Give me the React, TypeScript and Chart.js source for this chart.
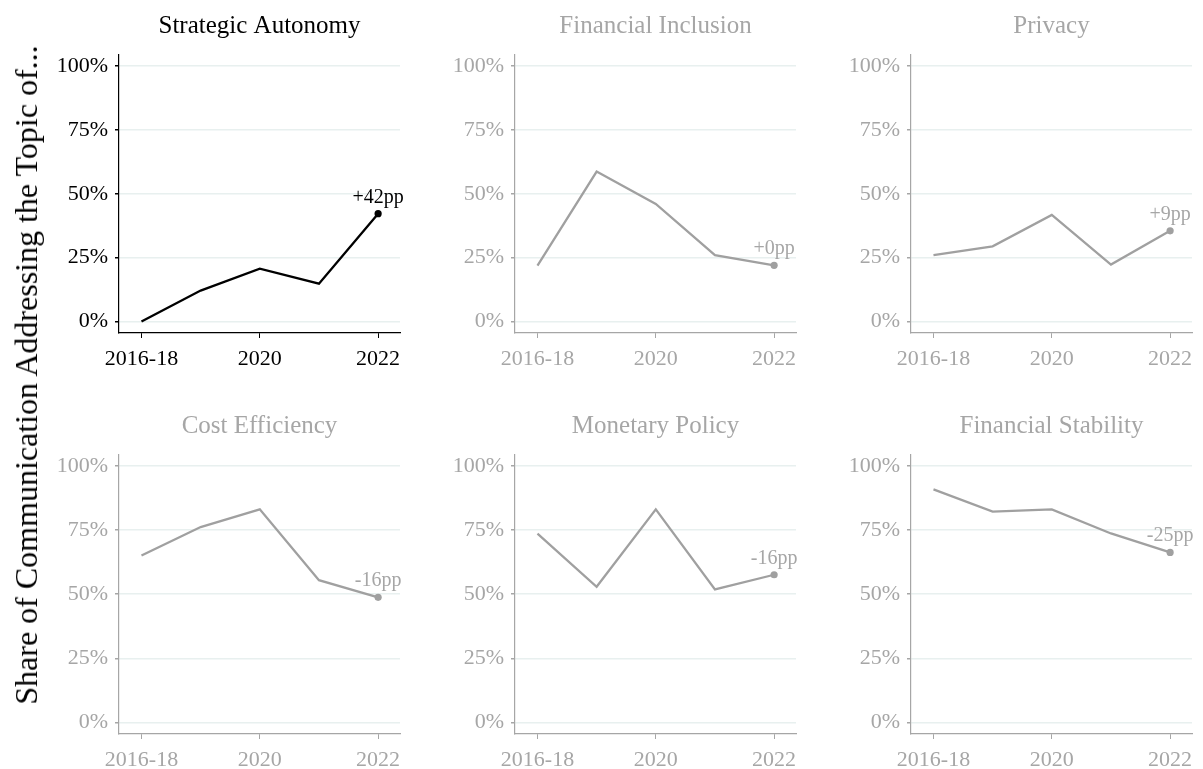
import React, { useEffect, useRef } from 'react';
import { Chart, registerables } from 'chart.js';

Chart.register(...registerables);

// ---- Data ----
const periods = ['2016-18', '2019', '2020', '2021', '2022'];
const xTickIndices = [0, 2, 4];
const yTicks = [0, 25, 50, 75, 100];
const yTickLabels = ['0%', '25%', '50%', '75%', '100%'];

const strategicAutonomy = [0, 12.1, 20.7, 14.8, 42.2];
const financialInclusion = [21.9, 58.7, 46.0, 26.0, 22.0];
const privacy = [26.0, 29.4, 41.7, 22.3, 35.5];
const costEfficiency = [65.1, 76.2, 83.1, 55.5, 48.8];
const monetaryPolicy = [73.6, 52.9, 83.1, 51.9, 57.6];
const financialStability = [90.9, 82.2, 83.1, 73.7, 66.3];

const panelTitles = [
  'Strategic Autonomy',
  'Financial Inclusion',
  'Privacy',
  'Cost Efficiency',
  'Monetary Policy',
  'Financial Stability',
];
const panelValues = [
  strategicAutonomy,
  financialInclusion,
  privacy,
  costEfficiency,
  monetaryPolicy,
  financialStability,
];
const changeLabels = ['+42pp', '+0pp', '+9pp', '-16pp', '-16pp', '-25pp'];
const highlighted = [true, false, false, false, false, false];

const yAxisTitle = 'Share of Communication Addressing the Topic of...';

// ---- Styles / layout ----
const FONT = "'Liberation Serif', 'Times New Roman', Times, serif";
const GRAY = '#a6a6a6';
const LINE_GRAY = '#a0a0a0';
const GRID = '#e8f0ef';
const Y_AXIS_W = 80;
const X_AXIS_H = 35;
const TITLE_H = 55;
const PLOT_W = 281;
const PAD_R = 20;
const colLefts = [119, 515, 911];
const rowLayouts = [
  { top: 0, plotH: 278, titlePadTop: 11 },
  { top: 400, plotH: 279, titlePadTop: 11 },
];

const endLabelPlugin = {
  id: 'endLabel',
  afterDatasetsDraw(chart: any, _args: any, opts: any) {
    const meta = chart.getDatasetMeta(0);
    const pt = meta.data[meta.data.length - 1];
    if (!pt) return;
    const ctx = chart.ctx;
    ctx.save();
    ctx.font = `20px ${FONT}`;
    ctx.fillStyle = opts.color;
    ctx.textAlign = 'center';
    ctx.textBaseline = 'alphabetic';
    ctx.fillText(opts.text, pt.x, pt.y - 11);
    ctx.restore();
  },
};

function Panel({ index }: { index: number }) {
  const ref = useRef<HTMLCanvasElement>(null);
  const col = index % 3;
  const row = Math.floor(index / 3);
  const rl = rowLayouts[row];
  const left = colLefts[col] - Y_AXIS_W;
  const width = Y_AXIS_W + PLOT_W + PAD_R;
  const height = TITLE_H + rl.plotH + X_AXIS_H;

  useEffect(() => {
    if (!ref.current) return;
    const hl = highlighted[index];
    const color = hl ? '#000000' : GRAY;
    const lineColor = hl ? '#000000' : LINE_GRAY;
    const values = panelValues[index];
    const tickFont = { family: FONT, size: 22, weight: 'normal' as const };
    const chart = new Chart(ref.current, {
      type: 'line',
      data: {
        datasets: [
          {
            data: values.map((v, i) => ({ x: i, y: v })),
            borderColor: lineColor,
            borderWidth: 2.3,
            pointRadius: values.map((_, i) => (i === values.length - 1 ? 3.6 : 0)),
            pointBackgroundColor: lineColor,
            pointBorderWidth: 0,
            tension: 0,
            clip: false as any,
          },
        ],
      },
      options: {
        responsive: false,
        animation: false,
        devicePixelRatio: 1,
        layout: { padding: { left: 0, top: 0, right: PAD_R, bottom: 0 } },
        plugins: {
          legend: { display: false },
          tooltip: { enabled: false },
          title: {
            display: true,
            text: panelTitles[index],
            color,
            fullSize: false,
            font: { family: FONT, size: 25, weight: 'normal' },
            padding: { top: rl.titlePadTop, bottom: TITLE_H - 30 - rl.titlePadTop },
          },
          endLabel: { text: changeLabels[index], color },
        } as any,
        scales: {
          x: {
            type: 'linear',
            min: -0.38,
            max: 4.37,
            afterBuildTicks: (s: any) => {
              s.ticks = xTickIndices.map((v) => ({ value: v }));
            },
            afterFit: (s: any) => {
              s.height = X_AXIS_H;
            },
            ticks: {
              callback: (v: any) => periods[v as number],
              color,
              font: tickFont,
              padding: 8,
              maxRotation: 0,
              autoSkip: false,
            },
            grid: {
              drawOnChartArea: false,
              drawTicks: true,
              tickLength: 5,
              tickColor: color,
              color,
            },
            border: { display: true, color, width: 1.2 },
          },
          y: {
            type: 'linear',
            min: -4.5,
            max: 104.3,
            afterBuildTicks: (s: any) => {
              s.ticks = yTicks.map((v) => ({ value: v }));
            },
            afterFit: (s: any) => {
              s.width = Y_AXIS_W;
            },
            ticks: {
              callback: (v: any) => yTickLabels[yTicks.indexOf(v as number)],
              color,
              font: tickFont,
              padding: 7,
            },
            grid: {
              color: GRID,
              lineWidth: 1.5,
              tickColor: color,
              tickLength: 4,
            },
            border: { display: true, color, width: 1.2 },
          },
        },
      } as any,
      plugins: [endLabelPlugin],
    });
    return () => chart.destroy();
  }, [index]);

  return (
    <canvas
      ref={ref}
      width={width}
      height={height}
      style={{ position: 'absolute', left, top: rl.top, width, height, display: 'block' }}
    />
  );
}

export default function App() {
  return (
    <div
      style={{
        position: 'absolute',
        left: 0,
        top: 0,
        width: 1203,
        height: 769,
        overflow: 'hidden',
        background: '#ffffff',
      }}
    >
      {panelTitles.map((_, i) => (
        <Panel key={i} index={i} />
      ))}
      <div style={{ position: 'absolute', left: 26, top: 375, width: 0, height: 0 }}>
        <div
          style={{
            position: 'absolute',
            left: 0,
            top: 0,
            transform: 'translate(-50%, -50%) rotate(-90deg)',
            whiteSpace: 'nowrap',
            fontFamily: FONT,
            fontSize: 32,
            lineHeight: '32px',
            color: '#000000',
          }}
        >
          {yAxisTitle}
        </div>
      </div>
    </div>
  );
}
